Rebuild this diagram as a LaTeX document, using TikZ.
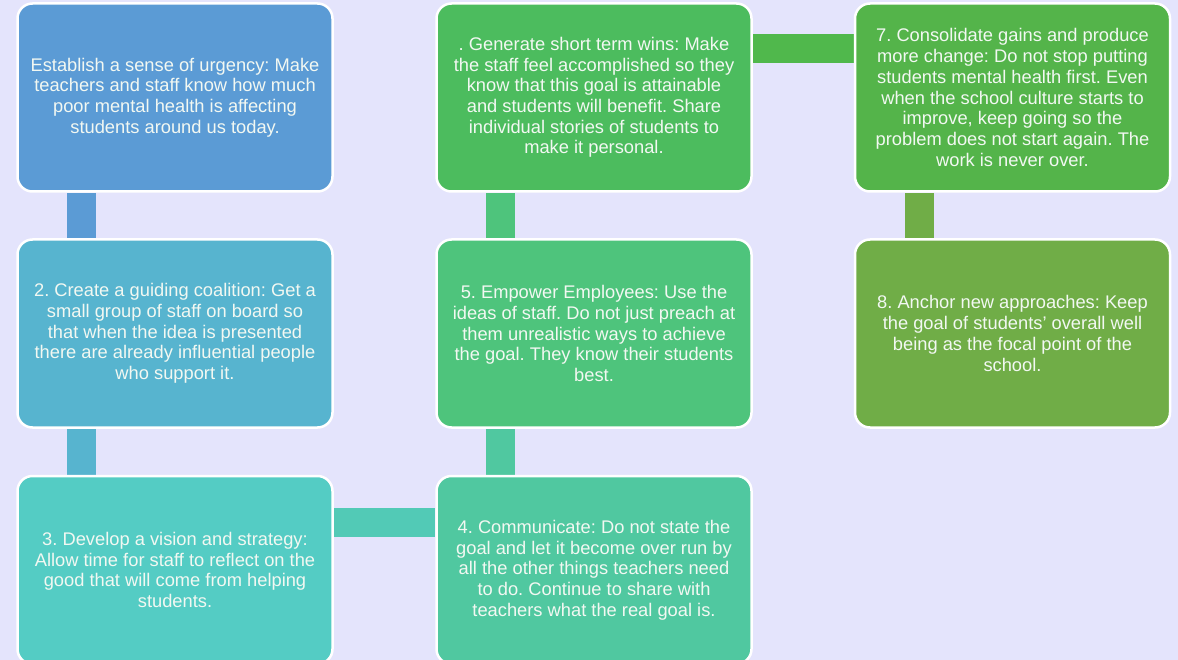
\documentclass[tikz,border=0pt]{standalone}
\usepackage{fontspec}
\setmainfont{Liberation Sans}
\usetikzlibrary{backgrounds}
\definecolor{pagebg}{RGB}{228,228,252}
\definecolor{txtcol}{RGB}{242,248,242}
\definecolor{stepA}{RGB}{91,155,213}
\definecolor{stepB}{RGB}{87,180,207}
\definecolor{stepC}{RGB}{84,204,196}
\definecolor{stepD}{RGB}{80,200,160}
\definecolor{stepE}{RGB}{78,196,124}
\definecolor{stepF}{RGB}{76,188,94}
\definecolor{stepG}{RGB}{84,180,74}
\definecolor{stepH}{RGB}{112,173,71}
\definecolor{linkCD}{RGB}{82,202,182}
\definecolor{linkFG}{RGB}{80,184,76}
\frenchspacing
\begin{document}
\begin{tikzpicture}[x=1pt, y=1pt,
  stagebox/.style={draw=white, line width=2.5pt, rounded corners=15pt,
    minimum width=315pt, minimum height=188pt, inner sep=0pt,
    align=center, text=txtcol, font=\fontsize{18.3}{20.7}\selectfont},
  bar/.style={line width=29pt}]
  \useasboundingbox (0,0) rectangle (1178,-660);
  % first column
  \node[stagebox, fill=stepA] (urgency) at (175,-97.5)
    {Establish a sense of urgency: Make\\teachers and staff know how much\\poor mental health is affecting\\students around us today.};
  \node[stagebox, fill=stepB] (coalition) at (175,-333.5)
    {2. Create a guiding coalition: Get a\\small group of staff on board so\\that when the idea is presented\\there are already influential people\\who support it.};
  \node[stagebox, fill=stepC] (vision) at (175,-570)
    {3. Develop a vision and strategy:\\Allow time for staff to reflect on the\\good that will come from helping\\students.};
  % second column
  \node[stagebox, fill=stepD] (communicate) at (594,-570)
    {4. Communicate: Do not state the\\goal and let it become over run by\\all the other things teachers need\\to do. Continue to share with\\teachers what the real goal is.};
  \node[stagebox, fill=stepE] (empower) at (594,-333.5)
    {5. Empower Employees: Use the\\ideas of staff. Do not just preach at\\them unrealistic ways to achieve\\the goal. They know their students\\best.};
  \node[stagebox, fill=stepF] (wins) at (594,-97.5)
    {. Generate short term wins: Make\\the staff feel accomplished so they\\know that this goal is attainable\\and students will benefit. Share\\individual stories of students to\\make it personal.};
  % third column
  \node[stagebox, fill=stepG] (consolidate) at (1012.5,-97.5)
    {7. Consolidate gains and produce\\more change: Do not stop putting\\students mental health first. Even\\when the school culture starts to\\improve, keep going so the\\problem does not start again. The\\work is never over.};
  \node[stagebox, fill=stepH] (anchor) at (1012.5,-333.5)
    {8. Anchor new approaches: Keep\\the goal of students’ overall well\\being as the focal point of the\\school.};
  \begin{pgfonlayer}{background}
    \fill[pagebg] (0,0) rectangle (1178,-660);
    \draw[bar, stepA] ([xshift=-93.5pt]urgency.south) -- ([xshift=-93.5pt]coalition.north);
    \draw[bar, stepB] ([xshift=-93.5pt]coalition.south) -- ([xshift=-93.5pt]vision.north);
    \draw[bar, linkCD] ([yshift=47.5pt]vision.east) -- ([yshift=47.5pt]communicate.west);
    \draw[bar, stepD] ([xshift=-93.5pt]communicate.north) -- ([xshift=-93.5pt]empower.south);
    \draw[bar, stepE] ([xshift=-93.5pt]empower.north) -- ([xshift=-93.5pt]wins.south);
    \draw[bar, linkFG] ([yshift=48.5pt]wins.east) -- ([yshift=48.5pt]consolidate.west);
    \draw[bar, stepH] ([xshift=-93pt]consolidate.south) -- ([xshift=-93pt]anchor.north);
  \end{pgfonlayer}
\end{tikzpicture}
\end{document}
